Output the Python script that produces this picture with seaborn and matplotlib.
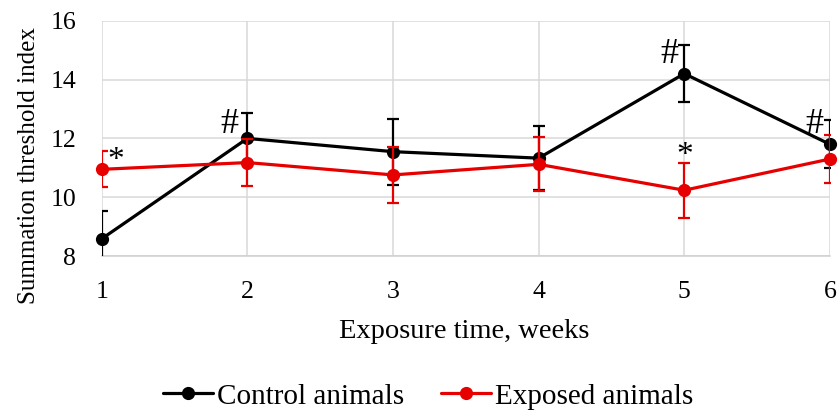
import numpy as np
import pandas as pd
import matplotlib
matplotlib.use("Agg")
import matplotlib.pyplot as plt
import seaborn as sns

weeks = [1, 2, 3, 4, 5, 6]
control_mean = [8.59, 12.00, 11.55, 11.33, 14.20, 11.80]
control_err = [0.93, 0.85, 1.12, 1.08, 0.98, 0.82]
exposed_mean = [10.95, 11.18, 10.76, 11.12, 10.24, 11.30]
exposed_err = [0.61, 0.80, 0.96, 0.92, 0.93, 0.80]
series_names = ["Control animals", "Exposed animals"]
series_colors = ["#000000", "#e60000"]

# significance marks: (x, baseline y, symbol)
marks_x = [1.097, 1.878, 4.90, 5.0, 5.894]
marks_y = [10.96, 12.17, 14.57, 11.12, 12.20]
marks_s = ["*", "#", "#", "*", "#"]

x_ticks = [1, 2, 3, 4, 5, 6]
y_ticks = [8, 10, 12, 14, 16]

sns.set_theme(style="white")
plt.rcParams['font.family'] = ['Liberation Serif', 'DejaVu Serif']
plt.rcParams['text.color'] = 'black'

fig = plt.figure(figsize=(8.4, 4.13), dpi=100)
ax = fig.add_axes([0.1211, 0.3797, 0.988 - 0.1211, 0.950 - 0.3797])

df = pd.DataFrame({
    "week": weeks * 2,
    "value": control_mean + exposed_mean,
    "err": control_err + exposed_err,
    "group": [series_names[0]] * 6 + [series_names[1]] * 6,
})

for i, (name, col) in enumerate(zip(series_names, series_colors)):
    sub = df[df["group"] == name]
    ax.errorbar(sub["week"], sub["value"], yerr=sub["err"], fmt="none",
                ecolor=col, elinewidth=1.6, capsize=4, capthick=1.6,
                zorder=3 + 2 * i)
    sns.lineplot(data=sub, x="week", y="value", ax=ax, color=col,
                 marker="o", markersize=9.5, markeredgewidth=0,
                 linewidth=2.3, label=name, zorder=4 + 2 * i,
                 clip_on=False, legend=False)

for mx, my, ms in zip(marks_x, marks_y, marks_s):
    ax.text(mx, my, ms, ha="center", va="baseline",
            fontsize=26 if ms == "#" else 24, color="black", zorder=10)

ax.set_xlim(1, 6)
ax.set_ylim(8, 16)
ax.set_xticks(x_ticks)
ax.set_yticks(y_ticks)
ax.tick_params(axis="x", length=0, pad=17.6, labelsize=18.5, colors="black")
ax.tick_params(axis="y", length=0, pad=18.5, labelsize=18.5, colors="black")
ax.grid(True, color="#d9d9d9", linewidth=1.1)
for s in ["left", "right", "top"]:
    ax.spines[s].set_visible(False)
ax.spines["bottom"].set_color("#d0d0d0")
ax.spines["bottom"].set_linewidth(1.1)

ax.set_xlabel("Exposure time, weeks", fontsize=20.5, color="black")
ax.xaxis.set_label_coords(0.4975, -0.2667)
ax.set_ylabel("Summation threshold index", fontsize=18, color="black")
ax.yaxis.set_label_coords(-0.0842, 0.383)

handles = [h for h in ax.get_lines() if h.get_label() in series_names]
fig.legend(handles, [h.get_label() for h in handles], loc="center",
           bbox_to_anchor=(0.5095, 0.040), ncol=2, frameon=False, fontsize=21,
           handlelength=1.71, handletextpad=0.13, columnspacing=1.27,
           borderpad=0, borderaxespad=0)

fig.savefig("out.png", dpi=100)
